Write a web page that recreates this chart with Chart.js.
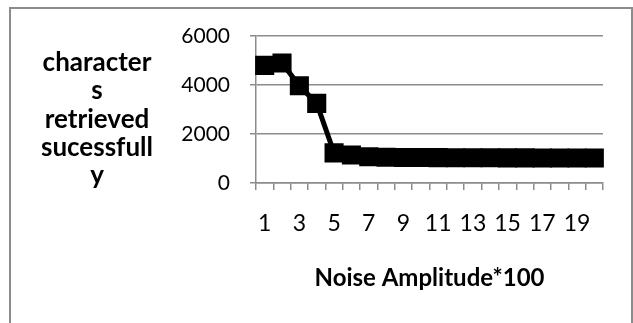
<!DOCTYPE html>
<html>
<head>
<meta charset="utf-8">
<script src="https://cdn.jsdelivr.net/npm/chart.js@4"></script>
<style>
  body { margin: 0; background: #fff; }
  #wrap { position: relative; width: 633px; height: 323px; overflow: hidden; }
  #frame { position: absolute; left: 9px; top: 7px; width: 620px; height: 340px; border: 2px solid #8c8c8c; pointer-events: none; }
  canvas { position: absolute; left: 0; top: 0; }
</style>
</head>
<body>
<div id="wrap">
  <canvas id="chart" width="633" height="323"></canvas>
  <div id="frame"></div>
</div>
<script>
// data
const categories = ["1","2","3","4","5","6","7","8","9","10","11","12","13","14","15","16","17","18","19","20"]
const retrieved = [4800, 4900, 3970, 3250, 1230, 1140, 1070, 1050, 1040, 1040, 1035, 1030, 1030, 1030, 1025, 1025, 1020, 1020, 1020, 1020]
const yTicks = [0, 2000, 4000, 6000]
const yTitleLines = ["character", "s", "retrieved", "sucessfull", "y"]
const xTitle = "Noise Amplitude*100"

const fontFamily = "Lato, 'Open Sans', sans-serif"

// y axis title is drawn flat, line by line, like the original
const flatYTitle = {
  id: "flatYTitle",
  afterDraw(chart) {
    const ctx = chart.ctx
    ctx.save()
    ctx.font = "bold 26px " + fontFamily
    ctx.fillStyle = "#000"
    ctx.textAlign = "center"
    ctx.textBaseline = "alphabetic"
    yTitleLines.forEach(function(line, i) {
      ctx.fillText(line, 97, 71 + i * 28.3)
    })
    ctx.restore()
  }
}

new Chart(document.getElementById("chart"), {
  type: "line",
  data: {
    labels: categories,
    datasets: [{
      data: retrieved,
      borderColor: "#000",
      backgroundColor: "#000",
      borderWidth: 5,
      pointStyle: "rect",
      pointRadius: 13.5,
      pointBorderWidth: 0,
      tension: 0
    }]
  },
  options: {
    responsive: false,
    animation: false,
    layout: { padding: { top: 36, right: 30, bottom: 0, left: 0 } },
    plugins: { legend: { display: false }, tooltip: { enabled: false } },
    scales: {
      x: {
        offset: true,
        grid: { offset: true, drawOnChartArea: false, drawTicks: true, tickLength: 7, color: "#8c8c8c", lineWidth: 1.5 },
        border: { color: "#8c8c8c", width: 1.5 },
        ticks: {
          autoSkip: false, maxRotation: 0, padding: 20,
          color: "#000", font: { family: fontFamily, size: 23 },
          callback: function(value, index) { return index % 2 === 0 ? categories[index] : "" }
        },
        title: { display: true, text: xTitle, color: "#000", font: { family: fontFamily, size: 24, weight: "bold" }, padding: { top: 0, bottom: 30 } },
        afterFit: function(axis) { axis.height = 140 }
      },
      y: {
        min: 0, max: 6000,
        afterBuildTicks: function(axis) { axis.ticks = yTicks.map(v => ({ value: v })) },
        grid: { color: "#8c8c8c", lineWidth: 1.5, tickLength: 6 },
        border: { color: "#8c8c8c", width: 1.5 },
        ticks: { padding: 20, color: "#000", font: { family: fontFamily, size: 21 }, callback: v => String(v) },
        afterFit: function(axis) { axis.width = 256 }
      }
    }
  },
  plugins: [flatYTitle]
})
</script>
</body>
</html>
